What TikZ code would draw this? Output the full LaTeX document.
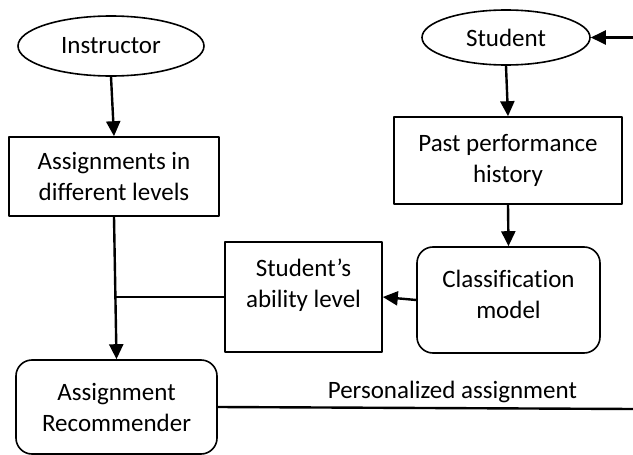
\documentclass[tikz,border=0pt]{standalone}
\usepackage{fontspec}
\setmainfont{Carlito}[Ligatures=CommonOff]
\usetikzlibrary{shapes.geometric,arrows.meta}

\begin{document}
\begin{tikzpicture}[x=1pt,y=-1pt,>={Triangle[length=15pt,width=14pt]},
	font=\fontsize{25}{31}\selectfont, line join=round,
	actor/.style={draw,ellipse,line width=1.6pt,inner sep=0pt},
	stepbox/.style={draw,rectangle,line width=1.6pt,inner sep=0pt,align=center},
	modelbox/.style={draw,rectangle,rounded corners=16pt,line width=1.6pt,inner sep=0pt,align=center},
	flow/.style={->,line width=2.4pt}]
	% [Khung - Layer 1]
	\useasboundingbox (0,0) rectangle (633,455);
	\coordinate (inlet) at (633,37.5);
	\coordinate (outlet) at (633,409);
	
	% [Nút - Layer 2]
	\node[actor,minimum width=186,minimum height=60] (instr) at (111,46) {Instructor};
	\node[stepbox,minimum width=210,minimum height=79] (assign) at (114,176.5) {Assignments in\\different levels};
	\node[modelbox,minimum width=201,minimum height=94] (recom) at (116.5,407) {Assignment\\Recommender};
	\node[actor,minimum width=168,minimum height=55] (student) at (506,37.5) {Student};
	\node[stepbox,minimum width=228,minimum height=87] (past) at (508,160.5) {Past performance\\history};
	\node[stepbox,minimum width=157,minimum height=110] (ability) at (303.5,297) {};
	\node[align=center,inner sep=0pt] (abilitytext) at (303.5,285) {Student's\\ability level};
	\node[modelbox,minimum width=183,minimum height=106] (classif) at (508.5,300) {};
	\node[align=center,inner sep=0pt] (classiftext) at (508.5,294) {Classification\\model};
	
	% [Mũi tên - Layer 3]
	\draw[flow] (inlet) -- (student.east);
	\draw[flow] (instr.south) -- (assign.north);
	\draw[flow] (student.south) -- (past.north);
	\draw[flow] (past.south) -- (classif.north);
	\draw[flow] (classif.west) -- (ability.east);
	\draw[flow] (assign.south) -- (recom.north);
	\draw[line width=2.4pt] (ability.west) -- (ability.west -| assign.south);
	\draw[line width=2.4pt] (recom.east) -- (outlet)
		node[pos=0.565,above=1pt] (perslabel) {Personalized assignment};
\end{tikzpicture}
\end{document}
